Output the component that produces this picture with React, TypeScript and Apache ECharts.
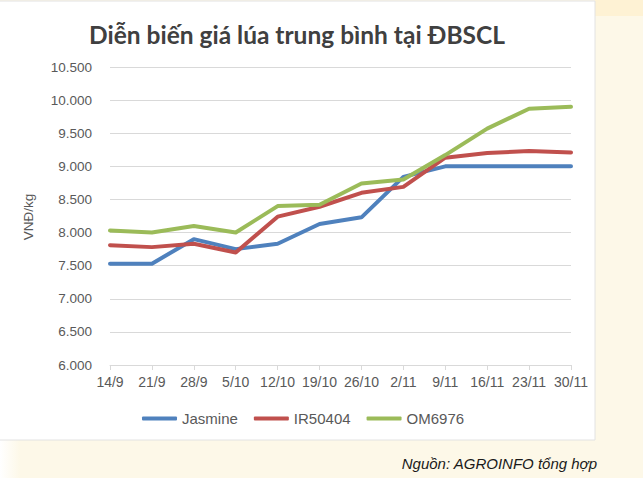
import React, { useEffect, useRef } from "react";
import * as echarts from "echarts";

const categories = ["14/9", "21/9", "28/9", "5/10", "12/10", "19/10", "26/10", "2/11", "9/11", "16/11", "23/11", "30/11"];
const jasmine = [7530, 7530, 7900, 7750, 7830, 8130, 8230, 8840, 9000, 9000, 9000, 9000];
const ir50404 = [7810, 7780, 7830, 7700, 8240, 8390, 8600, 8690, 9130, 9200, 9230, 9210];
const om6976 = [8030, 8000, 8100, 8000, 8400, 8420, 8740, 8800, 9170, 9570, 9870, 9900];
const seriesNames = ["Jasmine", "IR50404", "OM6976"];
const seriesColors = ["#4f81bd", "#c0504d", "#9bbb59"];
const titleText = "Diễn biến giá lúa trung bình tại ĐBSCL";
const sourceText = "Nguồn: AGROINFO tổng hợp";
const yAxisName = "VNĐ/kg";

export default function App() {
  const ref = useRef<HTMLDivElement>(null);
  useEffect(() => {
    document.body.style.margin = "0";
    const chart = echarts.init(ref.current!, null, { renderer: "svg" });
    const data = [jasmine, ir50404, om6976];
    chart.setOption({
      animation: false,
      backgroundColor: "#fdf8e8",
      graphic: [
        { type: "rect", z: -10, shape: { x: 595, y: 0, width: 48, height: 16 }, style: { fill: "#fef2d4" } },
        {
          type: "rect", z: -10, shape: { x: 0, y: 440, width: 20, height: 38 },
          style: {
            fill: new echarts.graphic.LinearGradient(0, 0, 1, 0, [
              { offset: 0, color: "#ffffff" },
              { offset: 1, color: "#fdf8e8" },
            ]),
          },
        },
        { type: "rect", z: -9, shape: { x: -2, y: 1, width: 597, height: 439 }, style: { fill: "#ffffff", stroke: "#e2e2e2", lineWidth: 1 } },
        {
          type: "text", x: 297, y: 34, z: 10,
          style: {
            x: 0, y: 0, text: titleText, align: "center", verticalAlign: "middle",
            font: "bold 24.5px Lato", fill: "#404040",
          },
        },
        {
          type: "text", z: 10, x: 28, y: 217, rotation: Math.PI / 2,
          style: {
            x: 0, y: 0, text: yAxisName, align: "center", verticalAlign: "middle",
            font: "13.5px 'Liberation Sans', Arial", fill: "#595959",
          },
        },
        {
          type: "text", z: 10, x: 597, y: 463,
          style: {
            x: 0, y: 0, text: sourceText, align: "right", verticalAlign: "middle",
            font: "italic 15px 'Liberation Sans', Arial", fill: "#1a1a1a",
          },
        },
      ],
      legend: {
        data: seriesNames,
        left: 137,
        top: 406,
        itemWidth: 35,
        itemHeight: 4,
        itemGap: 16,
        icon: "roundRect",
        textStyle: { fontFamily: "'Liberation Sans', Arial", fontSize: 15, color: "#595959" },
      },
      grid: { left: 110, right: 72, top: 67, bottom: 113 },
      xAxis: {
        type: "category",
        data: categories,
        boundaryGap: false,
        axisLine: { lineStyle: { color: "#d9d9d9", width: 1 } },
        axisTick: { show: true, length: 5, interval: 0, lineStyle: { color: "#d9d9d9" } },
        axisLabel: { interval: 0, fontFamily: "'Liberation Sans', Arial", fontSize: 14, color: "#595959", margin: 10 },
      },
      yAxis: {
        type: "value",
        min: 6000,
        max: 10500,
        interval: 500,
        axisLine: { show: false },
        axisTick: { show: false },
        splitLine: { lineStyle: { color: "#d9d9d9", width: 1 } },
        axisLabel: {
          fontFamily: "'Liberation Sans', Arial", fontSize: 13.5, color: "#595959", margin: 18,
          formatter: (v: number) => v.toLocaleString("de-DE"),
        },
      },
      series: seriesNames.map((name, i) => ({
        name,
        type: "line",
        data: data[i],
        symbol: "none",
        color: seriesColors[i],
        lineStyle: { width: 4, cap: "round", join: "round", color: seriesColors[i] },
      })),
    });
    return () => chart.dispose();
  }, []);
  return <div ref={ref} style={{ position: "absolute", left: 0, top: 0, width: 643, height: 478 }} />;
}
